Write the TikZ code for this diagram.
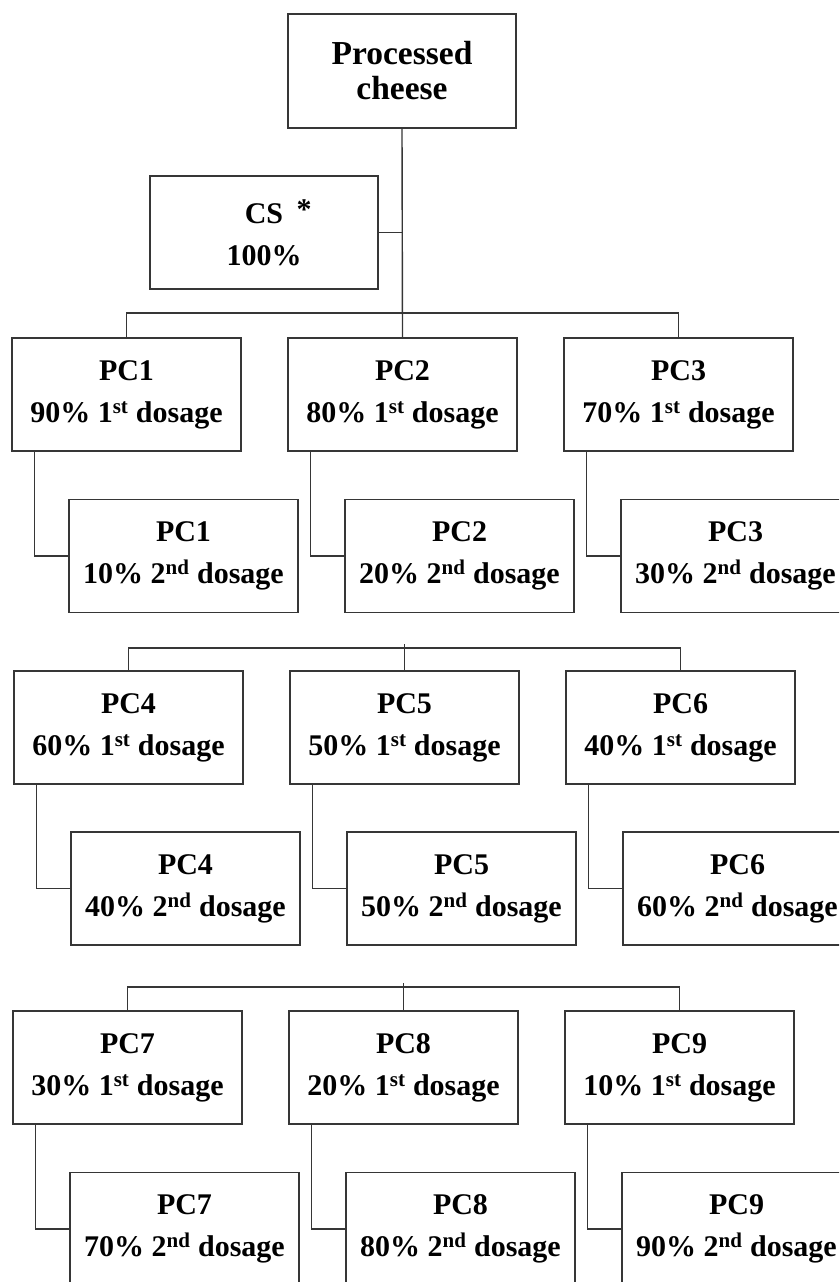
\documentclass[tikz,border=0pt]{standalone}
\usepackage{fontspec}
\setmainfont{Liberation Serif}
\usetikzlibrary{calc,positioning}
\definecolor{Ink}{HTML}{000000}
\definecolor{RuleGray}{HTML}{363636}
\tikzset{
  pcBox/.style={rectangle,draw=RuleGray,line width=1.4pt,fill=white,
    minimum width=229pt,minimum height=113pt,align=center,text=Ink,
    font=\bfseries\fontsize{30}{42}\selectfont,inner sep=0pt},
  pcRoot/.style={pcBox,minimum width=228pt,minimum height=114pt,
    font=\bfseries\fontsize{33.5}{35}\selectfont},
  treeLine/.style={draw=RuleGray,line width=1.4pt}
}
\newcommand{\first}{1\textsuperscript{st} dosage}
\newcommand{\second}{2\textsuperscript{nd} dosage}

\begin{document}
\begin{tikzpicture}[x=1pt,y=1pt]
  \useasboundingbox (0,0) rectangle (839,-1282);
  \clip (0,0) rectangle (839,-1282);
  \node[pcRoot] (root) at (402,-71) {Processed\\cheese};
  \node[pcBox,minimum width=228pt] (cs) at (264,-232.5) {CS\rlap{\hspace{0.45em}\raisebox{4pt}{*}}\\100\%};
  % first row
  \node[pcBox] (pc1a) at (126.5,-394.5) {PC1\\90\% \first};
  \node[pcBox] (pc2a) at (402.5,-394.5) {PC2\\80\% \first};
  \node[pcBox] (pc3a) at (678.5,-394.5) {PC3\\70\% \first};
  \node[pcBox] (pc1b) at (183.5,-556) {PC1\\10\% \second};
  \node[pcBox] (pc2b) at (459.5,-556) {PC2\\20\% \second};
  \node[pcBox] (pc3b) at (735.5,-556) {PC3\\30\% \second};
  % second row
  \node[pcBox] (pc4a) at (128.5,-727.5) {PC4\\60\% \first};
  \node[pcBox] (pc5a) at (404.5,-727.5) {PC5\\50\% \first};
  \node[pcBox] (pc6a) at (680.5,-727.5) {PC6\\40\% \first};
  \node[pcBox] (pc4b) at (185.5,-888.5) {PC4\\40\% \second};
  \node[pcBox] (pc5b) at (461.5,-888.5) {PC5\\50\% \second};
  \node[pcBox] (pc6b) at (737.5,-888.5) {PC6\\60\% \second};
  % third row
  \node[pcBox] (pc7a) at (127.5,-1067.5) {PC7\\30\% \first};
  \node[pcBox] (pc8a) at (403.5,-1067.5) {PC8\\20\% \first};
  \node[pcBox] (pc9a) at (679.5,-1067.5) {PC9\\10\% \first};
  \node[pcBox] (pc7b) at (184.5,-1229) {PC7\\70\% \second};
  \node[pcBox] (pc8b) at (460.5,-1229) {PC8\\80\% \second};
  \node[pcBox] (pc9b) at (736.5,-1229) {PC9\\90\% \second};
  % forks
  \coordinate (bus1) at (402.5,-313);
  \coordinate (bus2) at (404.5,-648);
  \coordinate (bus3) at (403.5,-987);
  \coordinate (stub2) at (404.5,-644);
  \coordinate (stub3) at (403.5,-983);
  \draw[treeLine] (root.south) -- (pc2a.north);
  \draw[treeLine] (cs.east) -- (cs.east -| root.south);
  \draw[treeLine] (pc1a.north) |- (bus1) -| (pc3a.north);
  \draw[treeLine] (pc4a.north) |- (bus2) -| (pc6a.north);
  \draw[treeLine] (pc7a.north) |- (bus3) -| (pc9a.north);
  \draw[treeLine] (stub2) -- (pc5a.north);
  \draw[treeLine] (stub3) -- (pc8a.north);
  \foreach \n in {1,...,9}{\draw[treeLine] ($(pc\n a.south west)+(23,0)$) |- (pc\n b.west);}
\end{tikzpicture}
\end{document}
